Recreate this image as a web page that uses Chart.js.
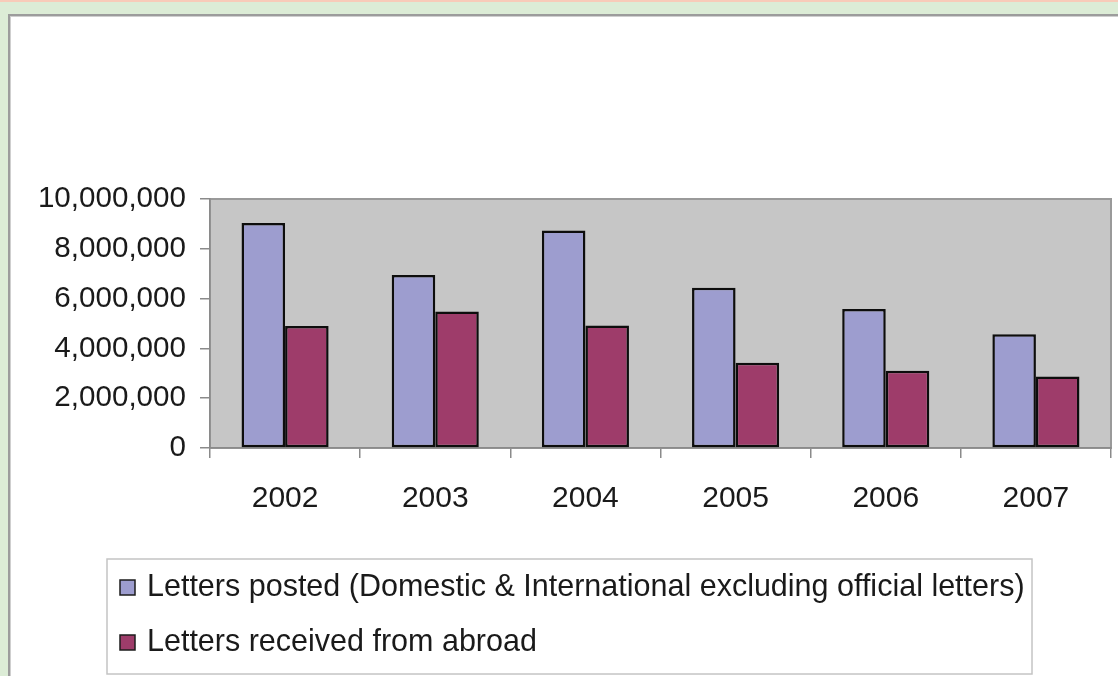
<!DOCTYPE html>
<html>
<head>
<meta charset="utf-8">
<title>Letters posted and received, 2002-2007</title>
<script src="https://cdn.jsdelivr.net/npm/chart.js@4.4.1/dist/chart.umd.min.js"></script>
<style>
  html, body { margin: 0; padding: 0; }
  body {
    width: 1118px; height: 676px; overflow: hidden; position: relative;
    background: #dcecd6;
    font-family: "Liberation Sans", Arial, sans-serif;
  }
  #topline { position: absolute; left: 0; top: 0; width: 1118px; height: 2px; background: #f8cbb9; }
  #panel {
    position: absolute; left: 8px; top: 14px; width: 1120px; height: 680px;
    background: #ffffff;
    border-left: 2px solid #9c9c9c; border-top: 2px solid #9c9c9c;
    box-shadow: inset 1px 1px 0 #cfcfcf;
  }
  #wrap { position: absolute; left: 0; top: 0; width: 1118px; height: 676px; }
</style>
</head>
<body>
<div id="topline"></div>
<div id="panel"></div>
<div id="wrap"><canvas id="chart" width="1118" height="676"></canvas></div>
<script>
// Years on the category axis
const years = ['2002', '2003', '2004', '2005', '2006', '2007'];

// Letters posted (domestic & international, excluding official letters)
const lettersPosted = [9040000, 6950000, 8730000, 6440000, 5580000, 4570000];

// Letters received from abroad
const lettersReceived = [4900000, 5480000, 4920000, 3420000, 3100000, 2870000];

// Series names shown in the legend
const seriesNames = [
  'Letters posted (Domestic & International excluding official letters)',
  'Letters received from abroad'
];

// Value axis range and tick step
const yMin = 0;
const yMax = 10000000;
const yStep = 2000000;

const FONT = '"Liberation Sans", Arial, sans-serif';
const fillColors = ['#9d9dcf', '#9e3c6a'];

// Grey plot background with a frame around the chart area
const plotBackground = {
  id: 'plotBackground',
  beforeDraw(chart) {
    const { ctx, chartArea: a } = chart;
    ctx.save();
    ctx.fillStyle = '#c6c6c6';
    ctx.fillRect(a.left, a.top, a.right - a.left, a.bottom - a.top);
    ctx.strokeStyle = '#9a9a9a';
    ctx.lineWidth = 2;
    ctx.strokeRect(a.left, a.top, a.right - a.left, a.bottom - a.top);
    ctx.restore();
  }
};

// Boxed legend under the category labels, one series per row
const boxedLegend = {
  id: 'boxedLegend',
  afterDraw(chart) {
    const { ctx, chartArea: a } = chart;
    const left = a.left - 103;
    const top = a.bottom + 111;
    const right = left + 925;
    const bottom = top + 115;
    ctx.save();
    ctx.strokeStyle = '#c4c4c4';
    ctx.lineWidth = 1.5;
    ctx.strokeRect(left, top, right - left, bottom - top);
    ctx.font = '30.5px ' + FONT;
    ctx.textBaseline = 'middle';
    ctx.textAlign = 'left';
    chart.data.datasets.forEach((ds, i) => {
      const cy = top + 29 + i * 55;
      ctx.fillStyle = ds.backgroundColor;
      ctx.fillRect(left + 13, cy - 8, 15, 15);
      ctx.strokeStyle = '#1c1c1c';
      ctx.lineWidth = 1.5;
      ctx.strokeRect(left + 13, cy - 8, 15, 15);
      ctx.fillStyle = '#1a1a1a';
      ctx.fillText(ds.label, left + 40, cy);
    });
    ctx.restore();
  }
};

new Chart(document.getElementById('chart'), {
  type: 'bar',
  data: {
    labels: years,
    datasets: [
      {
        label: seriesNames[0],
        data: lettersPosted,
        backgroundColor: fillColors[0],
        borderColor: '#0d0d0d',
        borderWidth: 2.5,
        borderSkipped: false
      },
      {
        label: seriesNames[1],
        data: lettersReceived,
        backgroundColor: fillColors[1],
        borderColor: '#0d0d0d',
        borderWidth: 2.5,
        borderSkipped: false
      }
    ]
  },
  options: {
    responsive: false,
    animation: false,
    datasets: { bar: { barPercentage: 1.0, categoryPercentage: 0.58 } },
    layout: { padding: { left: 0, top: 199, right: 7, bottom: 148 } },
    plugins: {
      legend: { display: false },
      tooltip: { enabled: false },
      title: { display: false }
    },
    scales: {
      x: {
        offset: true,
        afterFit(scale) { scale.height = 80; },
        grid: {
          offset: true,
          drawOnChartArea: false,
          drawTicks: true,
          tickLength: 10,
          color: '#8a8a8a',
          lineWidth: 1.5
        },
        border: { display: true, color: '#8a8a8a', width: 1.5 },
        ticks: {
          color: '#1a1a1a',
          padding: 23,
          font: { family: FONT, size: 30 },
          maxRotation: 0
        }
      },
      y: {
        min: yMin,
        max: yMax,
        afterFit(scale) { scale.width = 210; },
        grid: {
          drawOnChartArea: false,
          drawTicks: true,
          tickLength: 10,
          color: '#8a8a8a',
          lineWidth: 1.5
        },
        border: { display: true, color: '#8a8a8a', width: 1.5 },
        ticks: {
          stepSize: yStep,
          color: '#1a1a1a',
          padding: 14,
          font: { family: FONT, size: 29.6 },
          callback: (v) => Number(v).toLocaleString('en-US')
        }
      }
    }
  },
  plugins: [plotBackground, boxedLegend]
});
</script>
</body>
</html>
